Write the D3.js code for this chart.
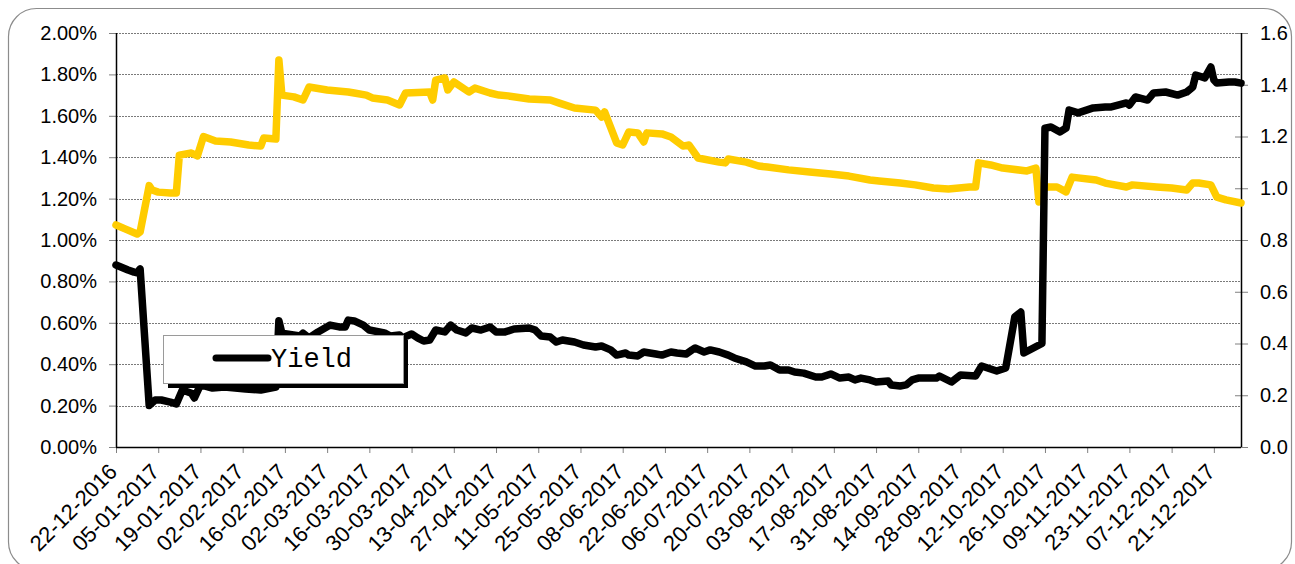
<!DOCTYPE html>
<html>
<head>
<meta charset="utf-8">
<script src="https://cdn.jsdelivr.net/npm/d3@7"></script>
<style>
  body { margin: 0; background: #fff; }
  svg { display: block; font-family: Arial, "Liberation Sans", sans-serif; }
</style>
</head>
<body>
<div id="chart-area"></div>
<script>
const MARGIN = { LEFT: 116, RIGHT: 54, TOP: 33, BOTTOM: 117 }
const W = 1295, H = 564
const WIDTH = W - MARGIN.LEFT - MARGIN.RIGHT
const HEIGHT = H - MARGIN.TOP - MARGIN.BOTTOM

// Data
const yieldDates = ["2016-12-22","2016-12-26","2016-12-28","2016-12-29","2016-12-30","2017-01-02","2017-01-04","2017-01-06","2017-01-09","2017-01-11","2017-01-13","2017-01-16","2017-01-17","2017-01-19","2017-01-23","2017-01-27","2017-02-03","2017-02-08","2017-02-13","2017-02-14","2017-02-15","2017-02-21","2017-02-22","2017-02-24","2017-02-27","2017-03-03","2017-03-06","2017-03-08","2017-03-09","2017-03-11","2017-03-14","2017-03-16","2017-03-21","2017-03-23","2017-03-26","2017-03-27","2017-03-30","2017-04-01","2017-04-03","2017-04-05","2017-04-07","2017-04-10","2017-04-12","2017-04-14","2017-04-17","2017-04-19","2017-04-22","2017-04-25","2017-04-27","2017-04-30","2017-05-03","2017-05-08","2017-05-10","2017-05-12","2017-05-15","2017-05-17","2017-05-19","2017-05-23","2017-05-26","2017-05-30","2017-06-01","2017-06-04","2017-06-06","2017-06-09","2017-06-10","2017-06-13","2017-06-15","2017-06-19","2017-06-21","2017-06-24","2017-06-26","2017-06-29","2017-07-01","2017-07-02","2017-07-05","2017-07-07","2017-07-10","2017-07-13","2017-07-15","2017-07-19","2017-07-22","2017-07-25","2017-07-27","2017-07-30","2017-08-02","2017-08-04","2017-08-07","2017-08-11","2017-08-13","2017-08-16","2017-08-19","2017-08-22","2017-08-24","2017-08-26","2017-08-29","2017-08-31","2017-09-04","2017-09-05","2017-09-08","2017-09-10","2017-09-12","2017-09-14","2017-09-20","2017-09-21","2017-09-25","2017-09-28","2017-10-03","2017-10-05","2017-10-10","2017-10-13","2017-10-16","2017-10-18","2017-10-19","2017-10-25","2017-10-26","2017-10-28","2017-10-31","2017-11-02","2017-11-03","2017-11-06","2017-11-11","2017-11-15","2017-11-17","2017-11-22","2017-11-23","2017-11-25","2017-11-29","2017-12-01","2017-12-05","2017-12-09","2017-12-12","2017-12-14","2017-12-15","2017-12-18","2017-12-20","2017-12-21","2017-12-22","2017-12-26","2017-12-28","2017-12-30"]
const yieldValues = [0.879,0.855,0.845,0.842,0.86,0.20,0.227,0.227,0.217,0.208,0.275,0.26,0.237,0.30,0.285,0.29,0.28,0.275,0.29,0.61,0.55,0.536,0.55,0.527,0.556,0.589,0.58,0.58,0.613,0.609,0.589,0.565,0.551,0.536,0.541,0.527,0.546,0.527,0.512,0.517,0.565,0.556,0.589,0.565,0.551,0.575,0.565,0.58,0.556,0.556,0.57,0.575,0.565,0.536,0.531,0.507,0.517,0.507,0.493,0.483,0.488,0.469,0.444,0.454,0.444,0.44,0.459,0.449,0.444,0.459,0.454,0.449,0.469,0.478,0.459,0.469,0.459,0.444,0.43,0.411,0.391,0.391,0.396,0.372,0.372,0.362,0.357,0.338,0.338,0.353,0.333,0.338,0.324,0.333,0.324,0.314,0.319,0.30,0.295,0.30,0.324,0.333,0.333,0.343,0.314,0.348,0.343,0.391,0.367,0.382,0.628,0.652,0.454,0.50,1.54,1.546,1.522,1.541,1.628,1.614,1.638,1.643,1.643,1.662,1.652,1.691,1.676,1.71,1.715,1.70,1.715,1.739,1.797,1.783,1.836,1.773,1.758,1.763,1.763,1.758]

const otherDates = ["2016-12-22","2016-12-25","2016-12-29","2016-12-30","2017-01-02","2017-01-03","2017-01-05","2017-01-09","2017-01-11","2017-01-12","2017-01-16","2017-01-18","2017-01-20","2017-01-24","2017-01-29","2017-02-04","2017-02-08","2017-02-09","2017-02-13","2017-02-14","2017-02-15","2017-02-19","2017-02-22","2017-02-24","2017-03-02","2017-03-09","2017-03-11","2017-03-15","2017-03-17","2017-03-22","2017-03-26","2017-03-28","2017-04-05","2017-04-06","2017-04-07","2017-04-10","2017-04-11","2017-04-13","2017-04-18","2017-04-20","2017-04-25","2017-04-28","2017-05-01","2017-05-08","2017-05-15","2017-05-18","2017-05-23","2017-05-30","2017-06-01","2017-06-02","2017-06-06","2017-06-08","2017-06-10","2017-06-13","2017-06-15","2017-06-16","2017-06-21","2017-06-24","2017-06-28","2017-06-30","2017-07-03","2017-07-10","2017-07-12","2017-07-13","2017-07-19","2017-07-23","2017-07-26","2017-08-02","2017-08-09","2017-08-16","2017-08-22","2017-08-29","2017-09-01","2017-09-08","2017-09-13","2017-09-19","2017-09-24","2017-10-01","2017-10-03","2017-10-04","2017-10-08","2017-10-12","2017-10-20","2017-10-23","2017-10-24","2017-10-26","2017-10-30","2017-11-02","2017-11-04","2017-11-06","2017-11-12","2017-11-15","2017-11-22","2017-11-24","2017-12-02","2017-12-07","2017-12-12","2017-12-14","2017-12-16","2017-12-20","2017-12-22","2017-12-25","2017-12-30"]
const otherValues = [0.858,0.843,0.823,0.831,1.01,0.993,0.985,0.982,0.982,1.128,1.136,1.125,1.2,1.183,1.179,1.167,1.163,1.194,1.19,1.496,1.36,1.353,1.341,1.391,1.38,1.372,1.368,1.36,1.349,1.341,1.322,1.368,1.372,1.341,1.418,1.426,1.38,1.411,1.372,1.387,1.368,1.36,1.357,1.345,1.341,1.329,1.31,1.302,1.275,1.295,1.175,1.167,1.217,1.214,1.179,1.214,1.21,1.198,1.163,1.167,1.117,1.101,1.098,1.113,1.101,1.086,1.082,1.071,1.063,1.055,1.047,1.032,1.028,1.02,1.013,1.001,0.997,1.005,1.005,1.098,1.09,1.078,1.067,1.078,0.947,1.005,1.005,0.986,1.043,1.04,1.032,1.02,1.005,1.013,1.005,1.001,0.993,1.02,1.02,1.013,0.966,0.955,0.943]

const leftTicks = [0, 0.2, 0.4, 0.6, 0.8, 1.0, 1.2, 1.4, 1.6, 1.8, 2.0]
const rightTicks = [0, 0.2, 0.4, 0.6, 0.8, 1.0, 1.2, 1.4, 1.6]
const xTickLabels = ["22-12-2016","05-01-2017","19-01-2017","02-02-2017","16-02-2017","02-03-2017","16-03-2017","30-03-2017","13-04-2017","27-04-2017","11-05-2017","25-05-2017","08-06-2017","22-06-2017","06-07-2017","20-07-2017","03-08-2017","17-08-2017","31-08-2017","14-09-2017","28-09-2017","12-10-2017","26-10-2017","09-11-2017","23-11-2017","07-12-2017","21-12-2017"]
const legendLabel = "Yield"

const parseIso = d3.utcParse("%Y-%m-%d")
const parseLabel = d3.utcParse("%d-%m-%Y")
const fmtLabel = d3.utcFormat("%d-%m-%Y")

const yieldData = yieldDates.map((d, i) => ({ date: parseIso(d), value: yieldValues[i] }))
const otherData = otherDates.map((d, i) => ({ date: parseIso(d), value: otherValues[i] }))

const svg = d3.select("#chart-area").append("svg")
    .attr("width", W)
    .attr("height", H)

// outer frame
svg.append("rect")
    .attr("x", 8.5).attr("y", 8.5)
    .attr("width", 1283).attr("height", 561.5)
    .attr("rx", 28).attr("ry", 28)
    .attr("fill", "#fff")
    .attr("stroke", "#8c8c8c")
    .attr("stroke-width", 1.2)

const g = svg.append("g")
    .attr("transform", `translate(${MARGIN.LEFT}, ${MARGIN.TOP})`)

// Scales
const x = d3.scaleUtc()
    .domain([parseIso("2016-12-22"), parseIso("2017-12-30")])
    .range([0, WIDTH])

const yLeft = d3.scaleLinear()
    .domain([0, 2.0])
    .range([HEIGHT, 0])

const yRight = d3.scaleLinear()
    .domain([0, 1.6])
    .range([HEIGHT, 0])

// Gridlines
g.append("g")
    .selectAll("line")
    .data(leftTicks)
    .enter().append("line")
    .attr("x1", 0).attr("x2", WIDTH)
    .attr("y1", d => Math.round(yLeft(d)) + 0.5)
    .attr("y2", d => Math.round(yLeft(d)) + 0.5)
    .attr("stroke", "#7a7a7a")
    .attr("stroke-width", 1)
    .attr("stroke-dasharray", "2,1")

// Left axis
const leftAxis = g.append("g")
    .attr("class", "y axis")
    .call(d3.axisLeft(yLeft).tickValues(leftTicks).tickFormat(d => d.toFixed(2) + "%").tickSize(7).tickPadding(12))
leftAxis.select(".domain").remove()

// Right axis
const rightAxis = g.append("g")
    .attr("class", "y axis right")
    .attr("transform", `translate(${WIDTH}, 0)`)
    .call(d3.axisRight(yRight).tickValues(rightTicks).tickFormat(d3.format(".1f")).tickSize(7).tickPadding(12))
rightAxis.select(".domain").remove()
rightAxis.selectAll(".tick line").attr("x1", -6)

svg.selectAll(".y.axis text")
    .attr("font-size", "20px")

// X axis
const xAxis = g.append("g")
    .attr("class", "x axis")
    .attr("transform", `translate(0, ${HEIGHT})`)
    .call(d3.axisBottom(x).tickValues(xTickLabels.map(parseLabel)).tickFormat(fmtLabel).tickSize(6))
xAxis.select(".domain").remove()
xAxis.selectAll("text")
    .attr("text-anchor", "end")
    .attr("x", 0).attr("y", 0).attr("dy", 0)
    .attr("font-size", "22px")
    .attr("transform", "translate(2, 26) rotate(-45)")

svg.selectAll(".axis .tick line").attr("stroke", "#808080")
svg.selectAll(".axis text")
    .attr("font-family", "Arial, 'Liberation Sans', sans-serif")
    .attr("fill", "#000")

// plot frame lines
g.append("line").attr("x1", 0.5).attr("x2", 0.5).attr("y1", 0).attr("y2", HEIGHT)
    .attr("stroke", "#000").attr("stroke-width", 1.5)
g.append("line").attr("x1", WIDTH + 0.5).attr("x2", WIDTH + 0.5).attr("y1", 0).attr("y2", HEIGHT)
    .attr("stroke", "#000").attr("stroke-width", 1.5)
g.append("line").attr("x1", 0).attr("x2", WIDTH).attr("y1", HEIGHT + 0.5).attr("y2", HEIGHT + 0.5)
    .attr("stroke", "#000").attr("stroke-width", 1.5)

// Lines
const otherLine = d3.line().x(d => x(d.date)).y(d => yRight(d.value))
const yieldLine = d3.line().x(d => x(d.date)).y(d => yLeft(d.value))

g.append("path")
    .datum(otherData)
    .attr("d", otherLine)
    .attr("fill", "none")
    .attr("stroke", "#ffcc00")
    .attr("stroke-width", 7.5)
    .attr("stroke-linejoin", "round")
    .attr("stroke-linecap", "round")

g.append("path")
    .datum(yieldData)
    .attr("d", yieldLine)
    .attr("fill", "none")
    .attr("stroke", "#000")
    .attr("stroke-width", 7.5)
    .attr("stroke-linejoin", "round")
    .attr("stroke-linecap", "round")

// Legend
const legend = svg.append("g").attr("transform", "translate(163, 335)")
legend.append("rect")
    .attr("x", 5).attr("y", 5)
    .attr("width", 240).attr("height", 48)
    .attr("fill", "#000")
legend.append("rect")
    .attr("x", 0.5).attr("y", 0.5)
    .attr("width", 240).attr("height", 48)
    .attr("fill", "#fff")
    .attr("stroke", "#9a9a9a")
    .attr("stroke-width", 1)
legend.append("line")
    .attr("x1", 53).attr("x2", 105)
    .attr("y1", 23).attr("y2", 23)
    .attr("stroke", "#000")
    .attr("stroke-width", 7)
    .attr("stroke-linecap", "round")
legend.append("text")
    .attr("x", 108).attr("y", 32)
    .attr("font-family", "'Courier New', 'Liberation Mono', monospace")
    .attr("font-size", "27px")
    .attr("fill", "#000")
    .text(legendLabel)
</script>
</body>
</html>
